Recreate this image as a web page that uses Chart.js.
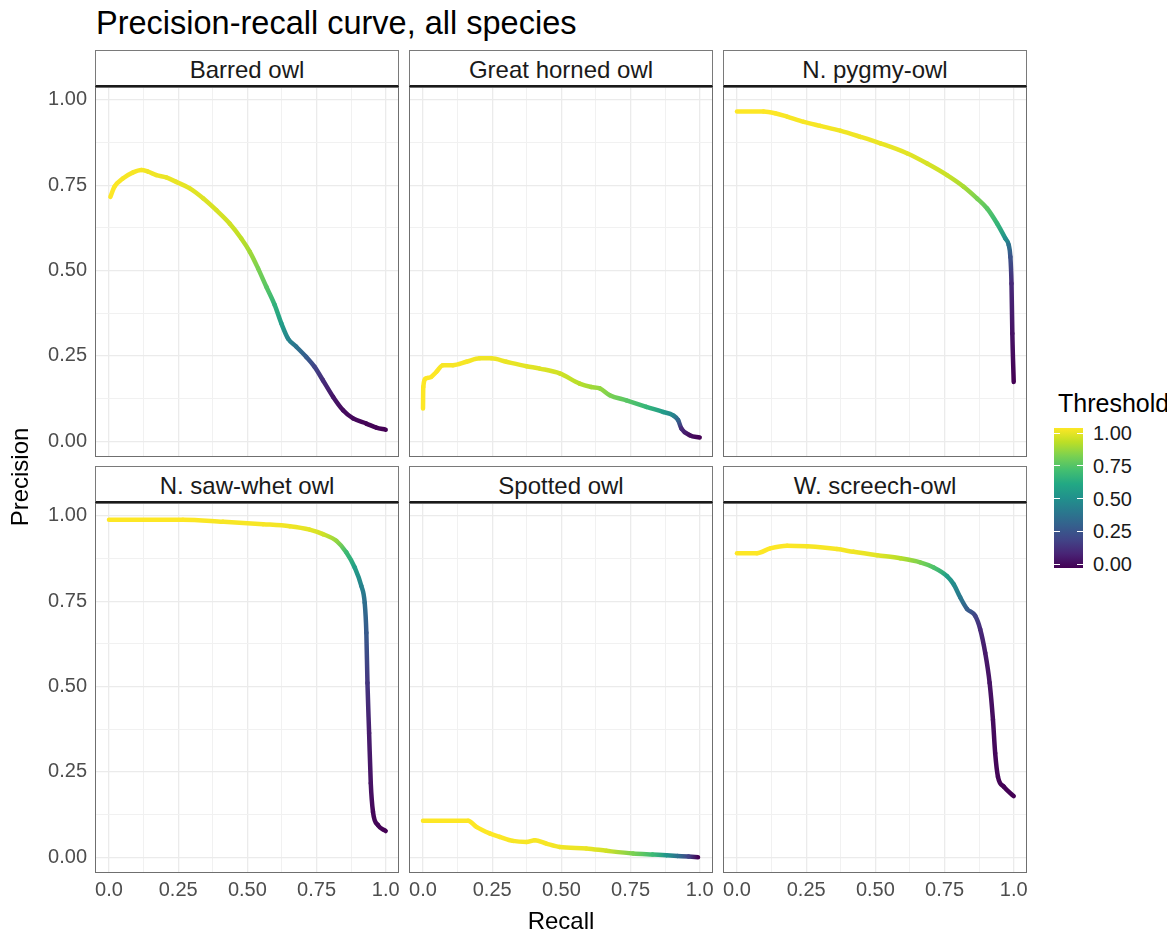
<!DOCTYPE html>
<html>
<head>
<meta charset="utf-8">
<script src="https://cdn.jsdelivr.net/npm/chart.js@4.4.1/dist/chart.umd.min.js"></script>
<style>
  body { margin: 0; background: #fff; font-family: "Liberation Sans", Arial, sans-serif; }
  #fig { position: relative; width: 1167px; height: 934px; overflow: hidden; background: #fff; }
  .abs { position: absolute; white-space: nowrap; }
  .strip { position: absolute; box-sizing: border-box; height: 37px; border: 1px solid #7a7a7a;
           border-bottom: 2px solid #1a1a1a; text-align: center; line-height: 38px;
           font-size: 24px; color: #1a1a1a; background: #fff; }
  canvas { position: absolute; }
</style>
</head>
<body>
<div id="fig"></div>
<script>
// facet names
const species = ["Barred owl", "Great horned owl", "N. pygmy-owl", "N. saw-whet owl", "Spotted owl", "W. screech-owl"];

// values: recall, precision, threshold
const barredRecall = [0.005, 0.02, 0.05, 0.087, 0.117, 0.141, 0.171, 0.207, 0.243, 0.292, 0.34, 0.388, 0.436, 0.478, 0.509, 0.539, 0.569, 0.599, 0.623, 0.647, 0.677, 0.713, 0.743, 0.773, 0.81, 0.846, 0.882, 0.93, 0.966, 1.0];
const barredPrecision = [0.716, 0.746, 0.77, 0.788, 0.795, 0.79, 0.78, 0.773, 0.76, 0.741, 0.712, 0.677, 0.638, 0.594, 0.555, 0.506, 0.452, 0.399, 0.345, 0.301, 0.277, 0.247, 0.218, 0.179, 0.13, 0.091, 0.067, 0.052, 0.04, 0.034];
const barredThreshold = [1.0, 1.0, 0.99, 0.99, 0.99, 0.98, 0.98, 0.97, 0.97, 0.96, 0.95, 0.94, 0.93, 0.9, 0.86, 0.8, 0.74, 0.64, 0.55, 0.45, 0.38, 0.29, 0.2, 0.13, 0.06, 0.03, 0.02, 0.01, 0.005, 0.0];

const hornedRecall = [0.0, 0.001, 0.01, 0.03, 0.048, 0.072, 0.108, 0.157, 0.205, 0.247, 0.301, 0.374, 0.422, 0.494, 0.566, 0.608, 0.639, 0.675, 0.735, 0.807, 0.867, 0.904, 0.922, 0.934, 0.964, 1.0];
const hornedPrecision = [0.096, 0.159, 0.184, 0.189, 0.203, 0.223, 0.223, 0.233, 0.243, 0.243, 0.233, 0.22, 0.213, 0.199, 0.169, 0.159, 0.155, 0.135, 0.12, 0.101, 0.086, 0.076, 0.062, 0.037, 0.018, 0.011];
const hornedThreshold = [1.0, 1.0, 1.0, 1.0, 1.0, 0.99, 0.99, 0.99, 0.98, 0.98, 0.97, 0.96, 0.95, 0.93, 0.89, 0.86, 0.84, 0.8, 0.74, 0.66, 0.55, 0.45, 0.32, 0.12, 0.04, 0.0];

const pygmyRecall = [0.0, 0.096, 0.138, 0.181, 0.241, 0.301, 0.373, 0.446, 0.518, 0.614, 0.687, 0.759, 0.819, 0.867, 0.904, 0.94, 0.97, 0.982, 0.988, 0.992, 0.995, 1.0];
const pygmyPrecision = [0.966, 0.966, 0.961, 0.951, 0.936, 0.924, 0.91, 0.892, 0.873, 0.844, 0.814, 0.78, 0.746, 0.712, 0.682, 0.638, 0.594, 0.575, 0.54, 0.462, 0.316, 0.174];
const pygmyThreshold = [1.0, 1.0, 1.0, 0.99, 0.99, 0.99, 0.98, 0.98, 0.97, 0.96, 0.94, 0.92, 0.87, 0.8, 0.74, 0.66, 0.5, 0.38, 0.25, 0.12, 0.05, 0.0];

const sawwhetRecall = [0.0, 0.267, 0.412, 0.557, 0.653, 0.725, 0.773, 0.822, 0.858, 0.888, 0.912, 0.924, 0.93, 0.934, 0.94, 0.946, 0.954, 0.972, 1.0];
const sawwhetPrecision = [0.989, 0.989, 0.983, 0.976, 0.97, 0.96, 0.947, 0.927, 0.893, 0.849, 0.795, 0.746, 0.658, 0.511, 0.364, 0.217, 0.133, 0.094, 0.077];
const sawwhetThreshold = [1.0, 1.0, 0.99, 0.99, 0.98, 0.96, 0.93, 0.84, 0.68, 0.56, 0.44, 0.36, 0.28, 0.16, 0.08, 0.05, 0.02, 0.01, 0.0];

const spottedRecall = [0.0, 0.163, 0.193, 0.241, 0.277, 0.325, 0.374, 0.404, 0.446, 0.494, 0.59, 0.663, 0.759, 0.83, 0.88, 0.92, 0.96, 0.994];
const spottedPrecision = [0.107, 0.107, 0.089, 0.07, 0.06, 0.048, 0.045, 0.05, 0.04, 0.03, 0.026, 0.019, 0.011, 0.008, 0.006, 0.004, 0.002, 0.0];
const spottedThreshold = [1.0, 1.0, 1.0, 1.0, 1.0, 0.99, 0.99, 0.99, 0.99, 0.98, 0.97, 0.93, 0.8, 0.68, 0.52, 0.38, 0.2, 0.0];

const screechRecall = [0.0, 0.072, 0.12, 0.181, 0.253, 0.361, 0.421, 0.506, 0.59, 0.662, 0.711, 0.759, 0.783, 0.807, 0.831, 0.861, 0.879, 0.897, 0.913, 0.925, 0.933, 0.943, 0.964, 1.0];
const screechPrecision = [0.891, 0.891, 0.905, 0.913, 0.911, 0.903, 0.895, 0.885, 0.876, 0.864, 0.849, 0.824, 0.8, 0.761, 0.728, 0.707, 0.668, 0.599, 0.511, 0.403, 0.305, 0.236, 0.207, 0.179];
const screechThreshold = [1.0, 1.0, 1.0, 1.0, 0.99, 0.99, 0.98, 0.96, 0.89, 0.8, 0.72, 0.56, 0.48, 0.4, 0.3, 0.2, 0.12, 0.07, 0.05, 0.03, 0.02, 0.01, 0.005, 0.0];

const recalls = [barredRecall, hornedRecall, pygmyRecall, sawwhetRecall, spottedRecall, screechRecall];
const precisions = [barredPrecision, hornedPrecision, pygmyPrecision, sawwhetPrecision, spottedPrecision, screechPrecision];
const thresholds = [barredThreshold, hornedThreshold, pygmyThreshold, sawwhetThreshold, spottedThreshold, screechThreshold];

// axes
const xTickValues = [0, 0.25, 0.5, 0.75, 1];
const xTickLabels = ["0.0", "0.25", "0.50", "0.75", "1.0"];
const yTickValues = [0, 0.25, 0.5, 0.75, 1];
const yTickLabels = ["0.00", "0.25", "0.50", "0.75", "1.00"];
const gridValues = [0, 0.125, 0.25, 0.375, 0.5, 0.625, 0.75, 0.875, 1];
const legendBreaks = [0, 0.25, 0.5, 0.75, 1];
const legendLabels = ["0.00", "0.25", "0.50", "0.75", "1.00"];

const viridisStops = ["#440154", "#482475", "#414487", "#355F8D", "#2A788E", "#21918C", "#22A884", "#44BF70", "#7AD151", "#BDDF26", "#FDE725"];

function hexRgb(h) {
  return [parseInt(h.slice(1, 3), 16), parseInt(h.slice(3, 5), 16), parseInt(h.slice(5, 7), 16)];
}
function viridis(t) {
  t = Math.max(0, Math.min(1, t));
  const p = t * 10;
  const i = Math.min(9, Math.floor(p));
  const f = p - i;
  const a = hexRgb(viridisStops[i]), b = hexRgb(viridisStops[i + 1]);
  return "rgb(" + a.map((v, k) => Math.round(v + (b[k] - v) * f)).join(",") + ")";
}

function pickLabel(v, values, labels) {
  const i = values.findIndex(t => Math.abs(t - v) < 1e-9);
  return i < 0 ? "" : labels[i];
}
function isMajor(v) {
  return xTickValues.some(t => Math.abs(t - v) < 1e-9);
}

const fig = document.getElementById("fig");
function addText(txt, css) {
  const d = document.createElement("div");
  d.className = "abs";
  d.textContent = txt;
  Object.assign(d.style, css);
  fig.appendChild(d);
  return d;
}

// layout
const colLeft = [95, 409, 723];
const rowTop = [87, 503];
const panelW = 304, panelH = 370, stripH = 37;
const FONT = "'Liberation Sans', Arial, sans-serif";

addText("Precision-recall curve, all species", { left: "96px", top: "7px", fontSize: "32.5px", lineHeight: "32px", color: "#000" });

const panelBorder = {
  id: "panelBorder",
  afterDraw(chart) {
    const a = chart.chartArea, c = chart.ctx;
    c.save();
    c.strokeStyle = "#6f6f6f";
    c.lineWidth = 1;
    c.strokeRect(a.left + 0.5, a.top + 0.5, a.right - a.left - 1, a.bottom - a.top - 1);
    c.restore();
  }
};

species.forEach((name, k) => {
  const row = Math.floor(k / 3), col = k % 3;

  const strip = document.createElement("div");
  strip.className = "strip";
  strip.textContent = name;
  strip.style.left = colLeft[col] + "px";
  strip.style.top = (rowTop[row] - stripH) + "px";
  strip.style.width = panelW + "px";
  fig.appendChild(strip);

  const yW = col === 0 ? 70 : 0;
  const xH = row === 1 ? 40 : 0;
  const cv = document.createElement("canvas");
  cv.width = panelW + yW;
  cv.height = panelH + xH;
  cv.style.left = (colLeft[col] - yW) + "px";
  cv.style.top = rowTop[row] + "px";
  cv.style.width = cv.width + "px";
  cv.style.height = cv.height + "px";
  fig.appendChild(cv);

  const thr = thresholds[k];
  const pts = recalls[k].map((r, i) => ({ x: r, y: precisions[k][i] }));

  const gridOpts = {
    drawTicks: false,
    color: c => (c.tick && isMajor(c.tick.value)) ? "#EBEBEB" : "#F1F1F1",
    lineWidth: c => (c.tick && isMajor(c.tick.value)) ? 1.3 : 1
  };

  new Chart(cv, {
    type: "line",
    data: {
      datasets: [{
        data: pts,
        borderWidth: 4.5,
        pointRadius: 0,
        borderCapStyle: "round",
        borderJoinStyle: "round",
        cubicInterpolationMode: "monotone",
        borderColor: viridis(1),
        segment: {
          borderColor: s => {
            const g = s.chart.ctx.createLinearGradient(s.p0.x, s.p0.y, s.p1.x, s.p1.y);
            g.addColorStop(0, viridis(thr[s.p0DataIndex]));
            g.addColorStop(1, viridis(thr[s.p1DataIndex]));
            return g;
          }
        }
      }]
    },
    options: {
      responsive: false,
      animation: false,
      events: [],
      layout: { padding: 0 },
      plugins: { legend: { display: false }, tooltip: { enabled: false }, title: { display: false } },
      scales: {
        x: {
          type: "linear",
          min: -0.0506,
          max: 1.048,
          afterBuildTicks: s => { s.ticks = gridValues.map(v => ({ value: v })); },
          afterFit: s => { s.height = xH; s.paddingLeft = 0; s.paddingRight = 0; },
          grid: gridOpts,
          border: { display: false },
          ticks: {
            display: row === 1,
            autoSkip: false,
            maxRotation: 0,
            padding: 5,
            color: "#4D4D4D",
            font: { family: FONT, size: 20 },
            callback: v => pickLabel(v, xTickValues, xTickLabels)
          }
        },
        y: {
          type: "linear",
          min: -0.046,
          max: 1.038,
          afterBuildTicks: s => { s.ticks = gridValues.map(v => ({ value: v })); },
          afterFit: s => { s.width = yW; s.paddingTop = 0; s.paddingBottom = 0; },
          grid: gridOpts,
          border: { display: false },
          ticks: {
            display: col === 0,
            autoSkip: false,
            padding: 8,
            color: "#4D4D4D",
            font: { family: FONT, size: 20 },
            callback: v => pickLabel(v, yTickValues, yTickLabels)
          }
        }
      }
    },
    plugins: [panelBorder]
  });
});

// axis titles
addText("Recall", { left: "461px", width: "200px", textAlign: "center", top: "909px", fontSize: "24px", lineHeight: "24px", color: "#000" });
addText("Precision", { left: "-80px", width: "200px", textAlign: "center", top: "465px", fontSize: "24px", lineHeight: "24px", color: "#000", transform: "rotate(-90deg)" });

// colour bar legend
addText("Threshold", { left: "1058px", top: "391px", fontSize: "25px", lineHeight: "25px", color: "#000" });
const bar = document.createElement("div");
bar.className = "abs";
Object.assign(bar.style, { left: "1054px", top: "428px", width: "29px", height: "140px",
  background: "linear-gradient(to top, " + viridisStops.join(", ") + ")" });
fig.appendChild(bar);
const barZero = 564, barOne = 433;
legendBreaks.forEach((b, i) => {
  const y = barZero - b * (barZero - barOne);
  [1054, 1077].forEach(x => {
    const t = document.createElement("div");
    t.className = "abs";
    Object.assign(t.style, { left: x + "px", top: (y - 0.5) + "px", width: "6px", height: "1px", background: "#fff" });
    fig.appendChild(t);
  });
  addText(legendLabels[i], { left: "1093px", top: (y - 10) + "px", fontSize: "20px", lineHeight: "20px", color: "#1a1a1a" });
});
</script>
</body>
</html>
